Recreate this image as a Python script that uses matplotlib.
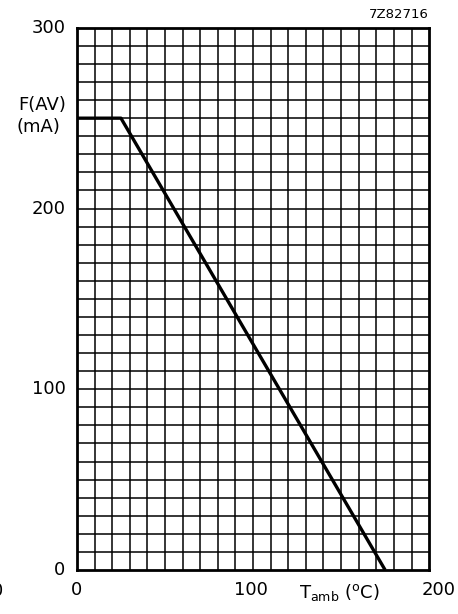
import numpy as np
import matplotlib.pyplot as plt

# derating curve: forward current vs ambient temperature
t_amb = [0, 25, 175]
i_fav = [250, 250, 0]

x_ticks = [0, 100, 200]
y_ticks = [0, 100, 200, 300]

plt.rcParams['font.family'] = ['DejaVu Sans']

fig = plt.figure(figsize=(4.58, 6.14), dpi=100)
ax = fig.add_axes([0.168, 0.0717, 0.769, 0.883])

ax.set_xlim(0, 200)
ax.set_ylim(0, 300)

# fine grid every 10 units
for gx in np.arange(10, 200, 10):
    ax.axvline(gx, color='black', lw=1.1, zorder=1)
for gy in np.arange(10, 300, 10):
    ax.axhline(gy, color='black', lw=1.1, zorder=1)

ax.plot(t_amb, i_fav, color='black', lw=2.4, zorder=3, solid_capstyle='butt')

for s in ax.spines.values():
    s.set_linewidth(2.0)

ax.set_xticks([])
ax.set_yticks([])

# tick labels drawn as text to match the scan layout
for v in y_ticks:
    ax.text(-6.5, v, str(v), ha='right', va='center', fontsize=13,
            clip_on=False)
x_shift = {0: -0.5, 100: -1, 200: 5.3}
for v in x_ticks:
    ax.text(v + x_shift[v], -11.2, str(v), ha='center', va='center',
            fontsize=13, clip_on=False)

ax.text(149, -12.5, r'T$_{\mathregular{amb}}$ ($^{\mathregular{o}}$C)', ha='center',
        va='center', fontsize=13, clip_on=False)
ax.text(-6, 257.3, 'F(AV)', ha='right', va='center', fontsize=13, clip_on=False)
ax.text(-9.5, 245.2, '(mA)', ha='right', va='center', fontsize=13, clip_on=False)
ax.text(200, 304, '7Z82716', ha='right', va='bottom', fontsize=9.5, clip_on=False)

# fragment of a neighbouring label cut off at the left edge
fig.text(-0.006, 0.038, '0', ha='center', va='center', fontsize=13)

fig.savefig('out.png', dpi=100)
